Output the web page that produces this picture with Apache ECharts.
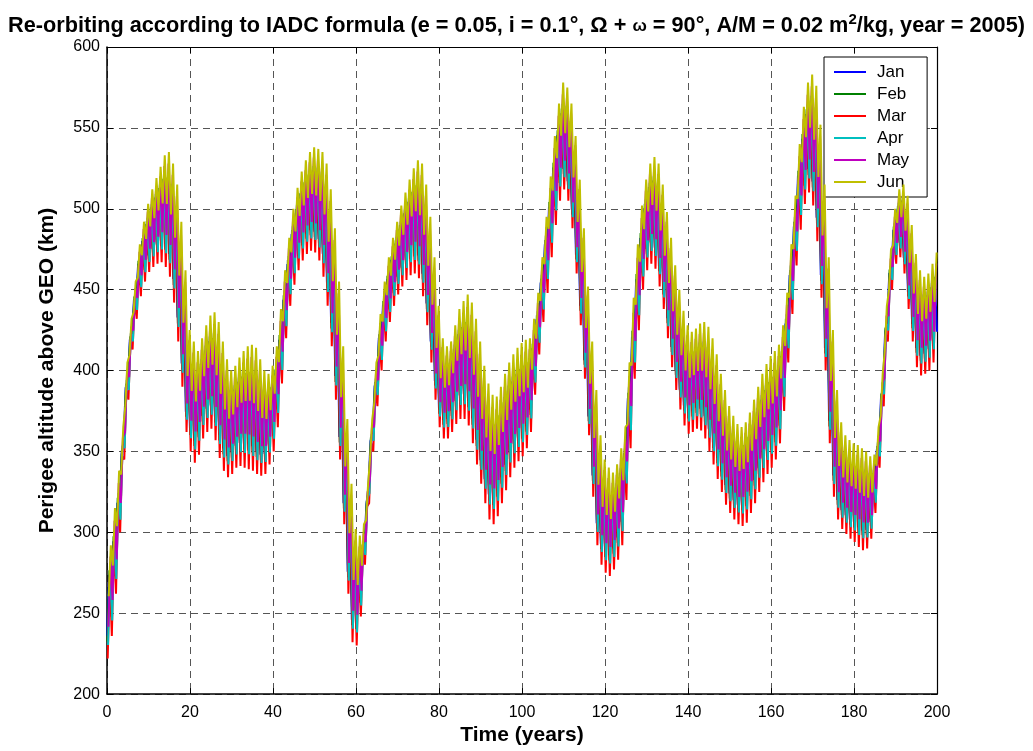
<!DOCTYPE html>
<html>
<head>
<meta charset="utf-8">
<script src="https://cdn.jsdelivr.net/npm/echarts@6/dist/echarts.min.js"></script>
<style>
  html, body { margin: 0; padding: 0; background: #ffffff; }
  #chart { width: 1033px; height: 751px; }
</style>
</head>
<body>
<div id="chart"></div>
<script>
// Launch months shown, with the classic colour order of the plot
const monthNames = ['Jan', 'Feb', 'Mar', 'Apr', 'May', 'Jun'];
const monthColors = ['#0000ff', '#008000', '#ff0000', '#00bfbf', '#bf00bf', '#bfbf00'];

// Axis ticks
const timeTicks = [0, 20, 40, 60, 80, 100, 120, 140, 160, 180, 200];
const altitudeTicks = [200, 250, 300, 350, 400, 450, 500, 550, 600];

// Yearly upper envelope of the perigee altitude (km), year 0..200
const crestJun = [
  292, 315, 338, 365, 405, 432, 455, 478, 492, 503,
  512, 519, 526, 533, 535, 528, 515, 492, 462, 425,
  418, 412, 420, 428, 434, 436, 430, 418, 407, 400,
  403, 408, 412, 415, 416, 414, 407, 400, 398, 403,
  415, 438, 462, 482, 500, 513, 523, 530, 535, 538,
  537, 535, 528, 512, 488, 455, 415, 370, 330, 302,
  298, 305, 330, 370, 405, 435, 455, 470, 482, 492,
  502, 510, 518, 525, 530, 528, 515, 495, 470, 440,
  420, 415, 418, 428, 438, 443, 447, 442, 432, 418,
  403, 392, 385, 384, 390, 398, 405, 410, 414, 417,
  419, 420, 432, 448, 470, 495, 520, 545, 565, 578,
  575, 565, 545, 518, 488, 452, 418, 388, 360, 345,
  340, 337, 342, 352, 365, 405, 445, 478, 502, 518,
  528, 532, 528, 515, 498, 482, 465, 450, 437, 428,
  424, 426, 429, 430, 427, 420, 410, 398, 388, 378,
  372, 367, 365, 368, 374, 382, 390, 398, 404, 409,
  412, 416, 428, 448, 478, 508, 540, 563, 578, 583,
  576, 552, 515, 470, 425, 388, 368, 360, 357, 355,
  354, 352, 350, 347, 348, 365, 398, 440, 475, 500,
  512, 515, 508, 490, 472, 462, 458, 460, 466, 473,
  480
];

// Yearly lower envelope of the perigee altitude (km), year 0..200
const floorMar = [
  222, 236, 262, 300, 345, 382, 413, 432, 446, 455,
  461, 464, 466, 467, 464, 458, 442, 418, 390, 362,
  350, 343, 348, 358, 362, 364, 357, 346, 338, 334,
  336, 340, 341, 340, 339, 338, 336, 335, 336, 342,
  350, 365, 392, 420, 440, 453, 462, 468, 472, 474,
  473, 468, 458, 440, 415, 382, 345, 305, 262, 232,
  230, 248, 280, 318, 350, 378, 400, 418, 430, 440,
  447, 452, 456, 459, 460, 457, 446, 428, 405, 382,
  365, 358, 358, 362, 367, 370, 370, 366, 355, 342,
  330, 318, 308, 305, 310, 318, 326, 334, 340, 344,
  347, 352, 362, 385, 410, 430, 448, 470, 490, 505,
  512, 505, 488, 460, 428, 395, 360, 322, 292, 280,
  275, 273, 277, 283, 292, 320, 352, 395, 425, 450,
  462, 466, 463, 452, 438, 420, 402, 388, 376, 366,
  361, 362, 364, 363, 358, 350, 342, 333, 325, 317,
  312, 308, 305, 304, 306, 312, 318, 325, 331, 336,
  340, 345, 355, 375, 405, 435, 465, 487, 503, 510,
  502, 480, 445, 400, 355, 322, 308, 302, 299, 296,
  294, 291, 289, 290, 296, 312, 340, 378, 418, 450,
  466, 470, 460, 438, 418, 402, 397, 398, 400, 405,
  410
];

// Where each month's annual swing sits inside the envelope (0 = lower, 1 = upper)
const peakShare = [0.74, 0.78, 0.72, 0.82, 0.90, 1.00];
const dipShare  = [0.20, 0.15, 0.00, 0.12, 0.28, 0.55];
// Launch month offset within the year (years)
const launchShift = [0, 1 / 12, 2 / 12, 3 / 12, 4 / 12, 5 / 12];

function monthTrack(m) {
  const pts = [];
  const tEnd = timeTicks[timeTicks.length - 1];
  for (let k = 0; k < crestJun.length; k++) {
    const span = crestJun[k] - floorMar[k];
    const tDip = k + launchShift[m];
    const tPeak = tDip + 0.5;
    if (tDip <= tEnd) pts.push([tDip, floorMar[k] + span * dipShare[m]]);
    if (tPeak <= tEnd) pts.push([tPeak, floorMar[k] + span * peakShare[m]]);
  }
  return pts;
}

const FONT = "'Liberation Sans', Arial, sans-serif";
const gridDash = { color: '#555555', width: 1, type: [7, 5] };

const chart = echarts.init(document.getElementById('chart'), null, { renderer: 'canvas' });

const series = monthNames.map((name, m) => ({
  name: name,
  type: 'line',
  data: monthTrack(m),
  showSymbol: false,
  symbol: 'none',
  animation: false,
  silent: true,
  lineStyle: { color: monthColors[m], width: 2 },
  itemStyle: { color: monthColors[m] },
  z: 2 + m
}));

const tickStep = timeTicks[1] - timeTicks[0];
const altStep = altitudeTicks[1] - altitudeTicks[0];

chart.setOption({
  backgroundColor: '#ffffff',
  animation: false,
  title: {
    text: 'Re-orbiting according to IADC formula (e = 0.05, i = 0.1°, {g|Ω} + {w|ω} = 90°, A/M = 0.02 m{sup|2}/kg, year = 2005)',
    left: 'center',
    top: 7,
    textStyle: {
      fontFamily: FONT, fontSize: 21.7, fontWeight: 'bold', color: '#000',
      rich: {
        g: { fontFamily: FONT, fontSize: 21.7, fontWeight: 'bold', color: '#000' },
        w: { fontFamily: FONT, fontSize: 17, fontWeight: 'bold', color: '#000' },
        sup: { fontFamily: FONT, fontSize: 15, fontWeight: 'bold', color: '#000', verticalAlign: 'top', padding: [0, 0, 14, 0] }
      }
    }
  },
  legend: {
    data: monthNames,
    orient: 'vertical',
    left: 824,
    top: 57,
    padding: [6, 18, 6, 10],
    itemGap: 4,
    itemWidth: 32,
    itemHeight: 2,
    icon: 'rect',
    backgroundColor: '#ffffff',
    borderColor: '#000000',
    borderWidth: 1,
    borderRadius: 0,
    textStyle: { fontFamily: FONT, fontSize: 17, color: '#000', lineHeight: 18, padding: [0, 0, 0, 6] }
  },
  grid: { left: 107, right: 96, top: 47, bottom: 51, containLabel: false },
  xAxis: [{
    type: 'value',
    min: timeTicks[0],
    max: timeTicks[timeTicks.length - 1],
    interval: tickStep,
    name: 'Time (years)',
    nameLocation: 'middle',
    nameGap: 29,
    nameTextStyle: { fontFamily: FONT, fontSize: 21, fontWeight: 'bold', color: '#000' },
    axisLine: { show: true, onZero: false, lineStyle: { color: '#000', width: 1.5 } },
    axisTick: { show: true, inside: true, length: 6, lineStyle: { color: '#000' } },
    axisLabel: { fontFamily: FONT, fontSize: 16, color: '#000', margin: 10 },
    splitLine: { show: true, lineStyle: gridDash }
  }, {
    type: 'value',
    position: 'top',
    min: timeTicks[0],
    max: timeTicks[timeTicks.length - 1],
    interval: tickStep,
    axisLine: { show: true, onZero: false, lineStyle: { color: '#000', width: 1.2 } },
    axisTick: { show: true, inside: true, length: 6, lineStyle: { color: '#000' } },
    axisLabel: { show: false },
    splitLine: { show: false }
  }],
  yAxis: [{
    type: 'value',
    min: altitudeTicks[0],
    max: altitudeTicks[altitudeTicks.length - 1],
    interval: altStep,
    name: 'Perigee altitude above GEO (km)',
    nameLocation: 'middle',
    nameGap: 49,
    nameTextStyle: { fontFamily: FONT, fontSize: 21, fontWeight: 'bold', color: '#000' },
    axisLine: { show: true, onZero: false, lineStyle: { color: '#000', width: 1.5 } },
    axisTick: { show: true, inside: true, length: 6, lineStyle: { color: '#000' } },
    axisLabel: { fontFamily: FONT, fontSize: 16, color: '#000', margin: 7 },
    splitLine: { show: true, lineStyle: gridDash }
  }, {
    type: 'value',
    position: 'right',
    min: altitudeTicks[0],
    max: altitudeTicks[altitudeTicks.length - 1],
    interval: altStep,
    axisLine: { show: true, onZero: false, lineStyle: { color: '#000', width: 1.2 } },
    axisTick: { show: true, inside: true, length: 6, lineStyle: { color: '#000' } },
    axisLabel: { show: false },
    splitLine: { show: false }
  }],
  series: series
});
</script>
</body>
</html>
